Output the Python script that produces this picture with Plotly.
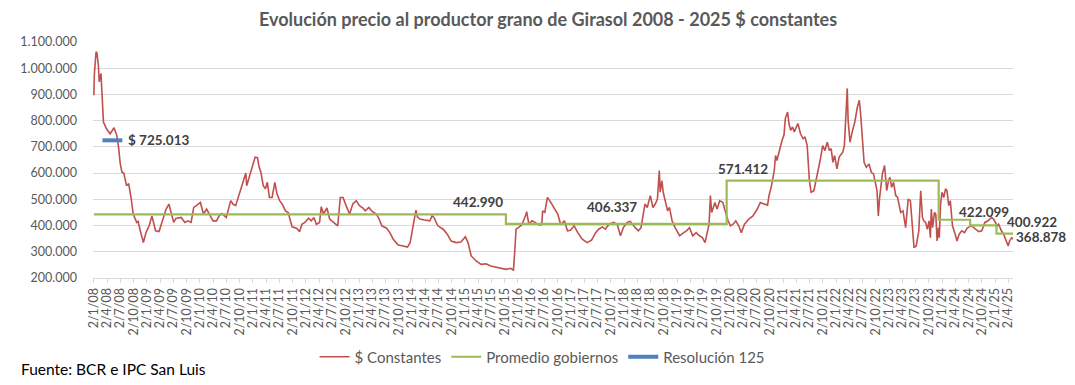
from datetime import datetime
import plotly.graph_objects as go

# ---------------- data ----------------
price_dates = [
    "2008-01-02","2008-01-05","2008-01-17","2008-01-23","2008-02-02","2008-02-08","2008-02-20","2008-02-27",
    "2008-03-08","2008-03-29","2008-04-23","2008-05-20","2008-06-08","2008-06-20","2008-07-02","2008-07-14",
    "2008-07-26","2008-08-14","2008-08-29","2008-09-14","2008-09-29","2008-10-23","2008-11-02","2008-11-14",
    "2008-12-08","2008-12-26","2009-01-17","2009-02-05","2009-02-14","2009-03-02","2009-03-26","2009-04-17",
    "2009-05-14","2009-06-02","2009-06-14","2009-07-05","2009-07-20","2009-08-26","2009-09-20","2009-10-11",
    "2009-11-02","2009-11-20","2009-12-08","2010-01-05","2010-01-26","2010-02-17","2010-03-14","2010-04-02",
    "2010-04-26","2010-05-14","2010-06-02","2010-07-02","2010-08-02","2010-08-17","2010-09-05","2010-09-29",
    "2010-10-14","2010-11-02","2010-11-14","2010-11-20","2010-12-05","2010-12-29","2011-01-17","2011-02-02",
    "2011-02-14","2011-02-26","2011-03-14","2011-03-29","2011-04-11","2011-04-26","2011-05-14","2011-06-02",
    "2011-06-17","2011-07-05","2011-07-23","2011-08-14","2011-09-02","2011-09-29","2011-10-29","2011-11-20",
    "2011-12-05","2011-12-26","2012-01-20","2012-02-08","2012-02-26","2012-03-14","2012-04-05","2012-04-17",
    "2012-05-02","2012-05-26","2012-06-14","2012-07-11","2012-08-08","2012-08-26","2012-09-14","2012-10-05",
    "2012-10-29","2012-11-20","2012-12-14","2013-01-05","2013-01-29","2013-02-14","2013-03-11","2013-04-02",
    "2013-05-02","2013-05-20","2013-06-08","2013-07-11","2013-08-02","2013-08-26","2013-09-29","2013-11-02",
    "2013-12-02","2013-12-20","2014-01-05","2014-01-17","2014-01-29","2014-02-08","2014-02-26","2014-03-29",
    "2014-05-05","2014-05-20","2014-06-02","2014-06-29","2014-08-05","2014-09-02","2014-09-29","2014-11-02",
    "2014-12-05","2015-01-05","2015-01-23","2015-02-14","2015-03-20","2015-04-23","2015-05-26","2015-06-29",
    "2015-08-05","2015-08-26","2015-10-11","2015-11-14","2015-12-02","2015-12-11","2015-12-20","2016-01-11",
    "2016-01-29","2016-02-23","2016-03-02","2016-03-17","2016-04-08","2016-04-29","2016-05-23","2016-06-14",
    "2016-06-20","2016-07-05","2016-07-23","2016-08-08","2016-08-23","2016-09-08","2016-10-02","2016-10-23",
    "2016-11-17","2016-12-08","2016-12-29","2017-01-23","2017-02-17","2017-03-20","2017-04-23","2017-05-23",
    "2017-06-20","2017-07-11","2017-08-05","2017-08-26","2017-09-20","2017-10-23","2017-11-17","2017-12-08",
    "2017-12-29","2018-01-23","2018-02-14","2018-03-20","2018-04-11","2018-04-29","2018-05-17","2018-05-26",
    "2018-06-11","2018-07-02","2018-07-20","2018-08-05","2018-08-20","2018-09-02","2018-09-08","2018-09-20",
    "2018-09-29","2018-10-11","2018-10-29","2018-11-11","2018-11-29","2018-12-20","2019-01-20","2019-02-17",
    "2019-03-08","2019-03-29","2019-04-20","2019-05-14","2019-06-05","2019-06-26","2019-07-14","2019-07-29",
    "2019-08-11","2019-08-20","2019-08-29","2019-09-20","2019-10-05","2019-10-23","2019-11-14","2019-11-26",
    "2019-12-05","2019-12-20","2020-01-05","2020-01-23","2020-02-11","2020-03-02","2020-03-20","2020-04-11",
    "2020-05-11","2020-06-08","2020-07-08","2020-07-29","2020-08-14","2020-09-02","2020-09-17","2020-09-26",
    "2020-10-14","2020-11-02","2020-11-11","2020-11-20","2020-12-08","2020-12-26","2021-01-08","2021-01-17",
    "2021-02-02","2021-02-11","2021-02-23","2021-03-08","2021-03-20","2021-04-14","2021-05-02","2021-05-20",
    "2021-06-02","2021-06-17","2021-07-02","2021-07-14","2021-08-02","2021-08-17","2021-09-02","2021-09-14",
    "2021-10-02","2021-10-17","2021-11-02","2021-11-17","2021-11-29","2021-12-11","2021-12-23","2022-01-08",
    "2022-01-23","2022-02-17","2022-02-28","2022-03-11","2022-03-20","2022-03-26","2022-04-08","2022-04-23",
    "2022-05-11","2022-05-29","2022-06-11","2022-06-20","2022-07-02","2022-07-14","2022-07-29","2022-08-17",
    "2022-09-02","2022-09-17","2022-10-11","2022-10-20","2022-10-29","2022-11-17","2022-12-02","2022-12-17",
    "2022-12-29","2023-01-08","2023-01-20","2023-02-02","2023-02-17","2023-03-02","2023-03-23","2023-04-08",
    "2023-04-26","2023-05-14","2023-05-29","2023-06-11","2023-06-23","2023-07-08","2023-07-26","2023-08-08",
    "2023-08-20","2023-08-29","2023-09-11","2023-09-23","2023-10-05","2023-10-14","2023-10-20","2023-10-29",
    "2023-11-11","2023-11-20","2023-11-29","2023-12-08","2023-12-14","2023-12-23","2024-01-02","2024-01-14",
    "2024-01-26","2024-02-05","2024-02-17","2024-02-28","2024-03-14","2024-04-02","2024-04-14","2024-04-29",
    "2024-05-17","2024-06-05","2024-06-23","2024-07-08","2024-07-26","2024-08-20","2024-09-11","2024-10-02",
    "2024-10-23","2024-11-14","2024-12-08","2024-12-23","2025-01-02","2025-01-17","2025-01-26","2025-02-14",
    "2025-02-28","2025-03-17","2025-04-02","2025-04-11","2025-04-26","2025-05-08",
]
price_values = [
    897000,973000,1063000,1058000,1012000,948000,980000,878000,
    795000,769000,750000,773000,744000,699000,635000,603000,
    600000,552000,560000,507000,444000,412000,416000,386000,
    335000,373000,399000,437000,418000,380000,377000,418000,
    463000,482000,459000,412000,427000,431000,412000,418000,
    412000,469000,476000,488000,444000,463000,437000,418000,
    418000,437000,446000,431000,495000,482000,476000,520000,
    552000,578000,600000,552000,578000,629000,661000,659000,
    622000,603000,552000,540000,565000,507000,507000,565000,
    520000,495000,482000,456000,450000,395000,390000,377000,
    405000,412000,428000,418000,431000,405000,412000,472000,
    444000,467000,425000,412000,399000,507000,507000,476000,
    444000,482000,495000,476000,467000,456000,469000,454000,
    444000,425000,399000,390000,373000,348000,326000,322000,
    318000,335000,380000,418000,459000,433000,425000,421000,
    418000,437000,431000,399000,386000,367000,341000,335000,
    337000,357000,335000,284000,265000,252000,254000,246000,
    242000,237000,233000,237000,229000,303000,386000,395000,
    403000,437000,453000,405000,418000,412000,403000,403000,
    456000,450000,507000,495000,482000,469000,444000,403000,
    418000,380000,382000,399000,373000,348000,335000,344000,
    373000,386000,395000,386000,405000,412000,403000,361000,
    393000,412000,416000,392000,380000,392000,456000,482000,
    469000,514000,469000,482000,501000,610000,527000,571000,
    527000,495000,456000,469000,418000,392000,361000,373000,
    380000,392000,361000,373000,361000,354000,335000,373000,
    405000,514000,450000,488000,463000,495000,488000,463000,
    444000,418000,399000,405000,418000,399000,373000,405000,
    425000,437000,463000,488000,484000,482000,478000,512000,
    552000,610000,667000,648000,693000,725000,745000,808000,
    833000,789000,763000,776000,757000,789000,750000,731000,
    738000,705000,571000,527000,533000,571000,610000,648000,
    705000,686000,718000,686000,693000,641000,667000,616000,
    661000,680000,705000,839000,923000,800000,718000,757000,
    795000,852000,878000,827000,737000,641000,622000,635000,
    603000,597000,533000,437000,507000,597000,629000,533000,
    571000,584000,546000,565000,514000,507000,450000,456000,
    392000,501000,495000,380000,316000,322000,380000,533000,
    431000,418000,412000,386000,418000,354000,463000,392000,
    450000,443000,341000,392000,354000,482000,527000,507000,
    540000,533000,476000,495000,399000,367000,341000,367000,
    380000,373000,390000,395000,399000,386000,377000,380000,
    412000,418000,431000,424000,415000,399000,405000,380000,
    369000,348000,322000,341000,354000,348000,
]

gov_dates = ["2008-01-02", "2015-10-11", "2019-12-10", "2023-12-10", "2024-07-14", "2025-01-11", "2025-05-08"]
gov_values = [442990, 406337, 571412, 422099, 400922, 368878, 368878]

res_dates = ["2008-03-01", "2008-07-16"]
res_values = [725013, 725013]

tick_labels = [
    "2/1/08","2/4/08","2/7/08","2/10/08","2/1/09","2/4/09","2/7/09","2/10/09",
    "2/1/10","2/4/10","2/7/10","2/10/10","2/1/11","2/4/11","2/7/11","2/10/11",
    "2/1/12","2/4/12","2/7/12","2/10/12","2/1/13","2/4/13","2/7/13","2/10/13",
    "2/1/14","2/4/14","2/7/14","2/10/14","2/1/15","2/4/15","2/7/15","2/10/15",
    "2/1/16","2/4/16","2/7/16","2/10/16","2/1/17","2/4/17","2/7/17","2/10/17",
    "2/1/18","2/4/18","2/7/18","2/10/18","2/1/19","2/4/19","2/7/19","2/10/19",
    "2/1/20","2/4/20","2/7/20","2/10/20","2/1/21","2/4/21","2/7/21","2/10/21",
    "2/1/22","2/4/22","2/7/22","2/10/22","2/1/23","2/4/23","2/7/23","2/10/23",
    "2/1/24","2/4/24","2/7/24","2/10/24","2/1/25","2/4/25",
]
tick_vals = [datetime.strptime(s, "%d/%m/%y") for s in tick_labels]

# ---------------- style ----------------
FONT = "Lato, 'Open Sans', sans-serif"
GRAY = "#595959"
LBL = "#404040"
RED = "#c0504d"
GREEN = "#9bbb59"
BLUE = "#4f81bd"
GRID = "#d9d9d9"

# the page body has an 8px margin: the figure is drawn from page pixel (8, 8)
OFF = 8
W, H = 1075 - OFF, 385 - OFF
L, R, T, B = 88 - OFF, 62, 42 - OFF, 107
pw, ph = W - L - R, H - T - B


def px2paper_x(page_px):
    return (page_px - OFF - L) / pw


def px2paper_y(page_py):
    return (H - B - (page_py - OFF)) / ph


def fmt(v):
    return f"{v:,.0f}".replace(",", ".")


fig = go.Figure()
fig.add_trace(go.Scatter(x=price_dates, y=price_values, mode="lines", name="$ Constantes",
                         line=dict(color=RED, width=1.6)))
fig.add_trace(go.Scatter(x=gov_dates, y=gov_values, mode="lines", name="Promedio gobiernos",
                         line=dict(color=GREEN, width=2.2, shape="hv")))
fig.add_trace(go.Scatter(x=res_dates, y=res_values, mode="lines", name="Resolución 125",
                         line=dict(color=BLUE, width=4)))

annotations = [
    dict(x="2008-08-12", y=res_values[0], xref="x", yref="y", text="$ " + fmt(res_values[0]),
         xanchor="left", yanchor="middle", yshift=0),
    dict(x=px2paper_x(475), y=gov_values[0], xref="paper", yref="y", text=fmt(gov_values[0]),
         xanchor="center", yanchor="middle", yshift=12),
    dict(x=px2paper_x(610), y=gov_values[1], xref="paper", yref="y", text=fmt(gov_values[1]),
         xanchor="center", yanchor="middle", yshift=17),
    dict(x=px2paper_x(742), y=gov_values[2], xref="paper", yref="y", text=fmt(gov_values[2]),
         xanchor="center", yanchor="middle", yshift=12),
    dict(x=px2paper_x(984), y=gov_values[3], xref="paper", yref="y", text=fmt(gov_values[3]),
         xanchor="center", yanchor="middle", yshift=8),
    dict(x=px2paper_x(1032), y=gov_values[4], xref="paper", yref="y", text=fmt(gov_values[4]),
         xanchor="center", yanchor="middle", yshift=3),
    dict(x=px2paper_x(1041), y=gov_values[5], xref="paper", yref="y", text=fmt(gov_values[5]),
         xanchor="center", yanchor="middle", yshift=-3),
]
for a in annotations:
    a.update(showarrow=False, font=dict(family=FONT, size=13.5, color=LBL, weight="bold"))

annotations.append(dict(x=px2paper_x(14), y=px2paper_y(369), xref="paper", yref="paper",
                        text="Fuente: BCR e IPC San Luis", showarrow=False, xanchor="left",
                        yanchor="middle", font=dict(family=FONT, size=15.5, color="#000000")))

fig.update_layout(
    width=W, height=H,
    margin=dict(l=L, r=R, t=T, b=B),
    paper_bgcolor="white", plot_bgcolor="white",
    separators=",.",
    title=dict(text="<b>Evolución precio al productor grano de Girasol 2008 - 2025 $ constantes</b>",
               x=(548 - OFF) / W, xref="container", xanchor="center",
               y=1 - (20 - OFF) / H, yref="container", yanchor="middle",
               font=dict(family=FONT, size=18, color=GRAY)),
    showlegend=True,
    legend=dict(orientation="h", x=px2paper_x(540), xanchor="center", y=px2paper_y(357), yanchor="middle",
                font=dict(family=FONT, size=15, color=GRAY), bgcolor="rgba(0,0,0,0)",
                itemwidth=30, tracegroupgap=0),
    annotations=annotations,
    shapes=[dict(type="line", xref="paper", yref="paper",
                 x0=px2paper_x(1072), x1=px2paper_x(1072), y0=px2paper_y(385), y1=px2paper_y(8),
                 line=dict(color=GRID, width=1), layer="below")],
)

fig.update_xaxes(
    type="date",
    range=["2007-12-27", "2025-05-05"],
    tickmode="array", tickvals=tick_vals, ticktext=tick_labels,
    tickangle=-90, tickfont=dict(family=FONT, size=12.5, color=GRAY),
    showgrid=False, showline=True, linecolor=GRID, linewidth=1,
    ticks="outside", ticklen=4, tickcolor=GRID, zeroline=False,
)
fig.update_yaxes(
    range=[200000, 1100000], dtick=100000, tick0=200000,
    tickformat=",.0f", tickfont=dict(family=FONT, size=12.5, color=GRAY),
    showgrid=True, gridcolor=GRID, gridwidth=1, zeroline=False, showline=False,
    ticks="", ticklabelstandoff=15,
)

fig.write_html("out.html")
